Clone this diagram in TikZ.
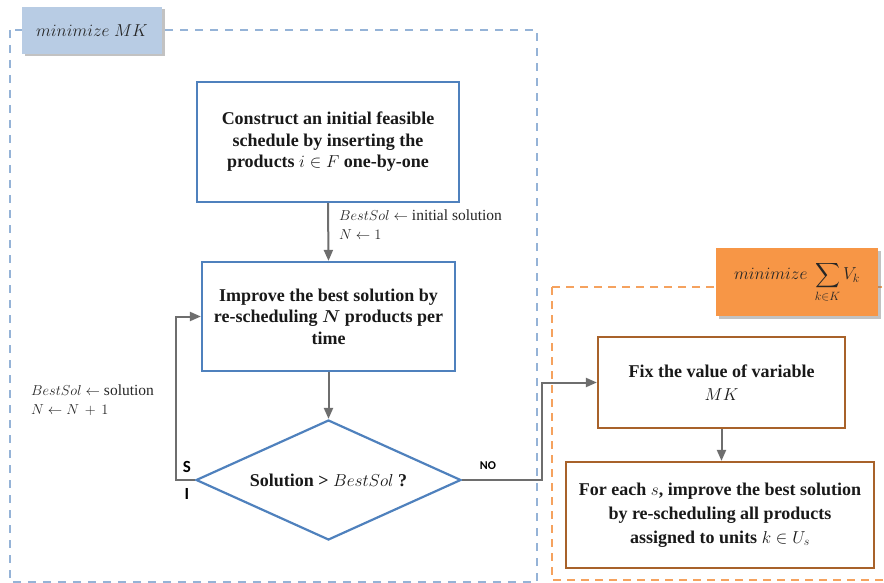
\documentclass[tikz,border=0pt]{standalone}
\usepackage{amsmath}
\usepackage{bm}
\usepackage{fontspec}
\setmainfont{Liberation Serif}
\newfontfamily\calfont{Carlito}
\usetikzlibrary{arrows.meta,shapes.geometric,shadows}

\definecolor{boxblue}{HTML}{4F81BD}
\definecolor{frameblue}{HTML}{95B3D7}
\definecolor{tagblue}{HTML}{B8CCE4}
\definecolor{tagorange}{HTML}{F79646}
\definecolor{frameorange}{HTML}{F5A25E}
\definecolor{boxbrown}{HTML}{A8622A}
\definecolor{linegray}{HTML}{6E6E6E}

\tikzset{
  body/.style={font=\fontsize{18}{21.5}\selectfont\bfseries, align=center, text=black!90},
  bluebox/.style={body, draw=boxblue, line width=2.2pt, fill=white, inner sep=0pt},
  brownbox/.style={body, draw=boxbrown, line width=2.2pt, fill=white, inner sep=0pt},
  flow/.style={draw=linegray, line width=2pt, -{Triangle[length=11pt,width=9pt]}},
  tag/.style={inner sep=0pt, text=black!85,
    drop shadow={shadow xshift=2.5pt, shadow yshift=-2.5pt, opacity=0.4, fill=black!60}},
  note/.style={font=\fontsize{15.5}{19}\selectfont, align=left, anchor=north west, inner sep=0pt, text=black!85},
  sitag/.style={font=\calfont\bfseries\fontsize{17}{17}\selectfont, inner sep=0pt}
}

\begin{document}
\begin{tikzpicture}[x=1pt,y=-1pt]
\useasboundingbox (0,0) rectangle (884,583);

% dashed group frames
\draw[frameblue, line width=2pt, dash pattern=on 8pt off 7pt] (10,30) rectangle (537,582);
\draw[frameorange, line width=2.5pt, dash pattern=on 8pt off 6pt] (552,287) rectangle (900,580);

% group tags
\node[tag, fill=tagblue, minimum width=140pt, minimum height=47pt]
  (tagmk) at (92,30.5) {\fontsize{18}{18}\selectfont$minimize\ MK$};
\node[tag, fill=tagorange, minimum width=162pt, minimum height=68pt]
  (tagv) at (797,282) {\fontsize{18}{18}\selectfont$minimize\ \displaystyle\sum_{k\in K} V_k$};

% flowchart steps
\node[bluebox, minimum width=262pt, minimum height=120pt] (b1) at (328,142)
  {Construct an initial feasible\\ schedule by inserting the\\ products $i\in F$ one-by-one};
\node[bluebox, minimum width=253pt, minimum height=109pt] (b2) at (328.5,316.5)
  {Improve the best solution by\\ re-scheduling $\bm{N}$ products per\\ time};
\node[body, draw=boxblue, line width=2.2pt, fill=white, diamond, aspect=2.2, inner sep=0pt,
  minimum width=265pt, minimum height=120pt] (dec) at (328.5,480)
  {Solution > \mdseries$BestSol$ \bfseries?};
\node[brownbox, minimum width=247pt, minimum height=91pt] (b3) at (721.5,382.5)
  {Fix the value of variable\\[2pt] \mdseries$MK$};
\node[brownbox, minimum width=308pt, minimum height=106pt, font=\fontsize{18}{24}\selectfont\bfseries] (b4) at (720,515)
  {For each $s$, improve the best solution\\ by re-scheduling all products\\ assigned to units $k\in U_s$};

% connectors
\coordinate (loop) at (176,400);
\coordinate (nobend) at (542,430);
\draw[flow] (b1.south) -- (b2.north);
\draw[flow] (b2.south) -- (dec.north);
\draw[flow] (dec.west) -| (loop) |- (b2.west);
\draw[flow] (dec.east) -| (nobend) |- (b3.west);
\draw[flow] (b3.south) -- (b3.south |- b4.north);

% connector labels
\node[note] (initlbl) at (339,210) {$BestSol \leftarrow$ initial solution\\ $N \leftarrow 1$};
\node[note] (looplbl) at (31,385) {$BestSol \leftarrow$ solution\\ $N \leftarrow N\, +\, 1$};
\node[sitag] (s) at (187,467) {S};
\node[sitag] (i) at (187,494) {I};
\node[font=\calfont\bfseries\fontsize{12}{12}\selectfont, inner sep=0pt] (no) at (488,466) {NO};
\end{tikzpicture}
\end{document}
